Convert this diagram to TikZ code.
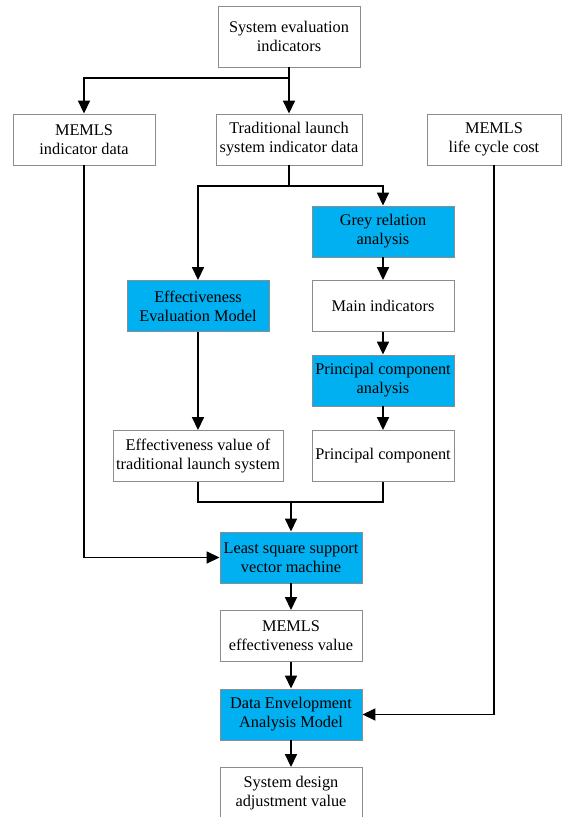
\documentclass[tikz,border=0pt]{standalone}
\usepackage{fontspec}
\setmainfont{Liberation Serif}
\usetikzlibrary{arrows.meta}
\definecolor{boxblue}{HTML}{00B0F0}
\definecolor{boxline}{HTML}{8C8C8C}
\begin{document}
\begin{tikzpicture}[x=1pt,y=-1pt,
  box/.style={draw=boxline,line width=0.9pt,fill=white,rectangle,align=center,
    minimum height=51pt,inner sep=0pt,font=\fontsize{16.3}{19}\selectfont},
  bluebox/.style={box,fill=boxblue},
  conn/.style={line width=1.6pt,-{Triangle[width=12pt,length=13pt]}},
  plain/.style={line width=1.6pt}]
\useasboundingbox (0,0) rectangle (562,817);
\fill[white] (0,0) rectangle (562,817);
% nodes
\node[box,minimum width=142pt,minimum height=61pt] (top) at (289,36.5) {System evaluation\\indicators};
\node[box,minimum width=142pt] (mid) at (84,139.5) {MEMLS\\indicator data};
\node[box,minimum width=146pt] (trad) at (289,139.5) {Traditional launch\\system indicator data};
\node[box,minimum width=134pt] (lcc) at (494,139.5) {MEMLS\\life cycle cost};
\node[bluebox,minimum width=142pt] (grey) at (383,231.5) {Grey relation\\analysis};
\node[box,minimum width=142pt] (main) at (383,306) {Main indicators};
\node[bluebox,minimum width=142pt] (pca) at (383,380.5) {Principal component\\analysis};
\node[box,minimum width=142pt] (pc) at (383,456) {Principal component};
\node[bluebox,minimum width=142pt] (eem) at (198,306) {Effectiveness\\Evaluation Model};
\node[box,minimum width=170pt] (ev) at (198,456) {Effectiveness value of\\traditional launch system};
\node[bluebox,minimum width=142pt] (ls) at (291,557.5) {Least square support\\vector machine};
\node[box,minimum width=142pt] (mev) at (291,636) {MEMLS\\effectiveness value};
\node[bluebox,minimum width=142pt] (dea) at (291,714.5) {Data Envelopment\\Analysis Model};
\node[box,minimum width=142pt] (sd) at (291,793) {System design\\adjustment value};
% coordinates
\coordinate (j1) at (289,78);
\coordinate (j2) at (289,186);
\coordinate (j3) at (291,502);
% connectors
\draw[plain] (top.south) -- (j1);
\draw[conn] (j1) -- (trad.north);
\draw[conn] (j1) -| (mid.north);
\draw[plain] (trad.south) -- (j2);
\draw[conn] (j2) -| (grey.north);
\draw[conn] (j2) -| (eem.north);
\draw[conn] (grey) -- (main);
\draw[conn] (main) -- (pca);
\draw[conn] (pca) -- (pc);
\draw[conn] (eem) -- (ev);
\draw[plain] (ev.south) |- (j3);
\draw[plain] (pc.south) |- (j3);
\draw[conn] (j3) -- (ls.north);
\draw[conn] (mid.south) |- (ls.west);
\draw[conn] (ls) -- (mev);
\draw[conn] (mev) -- (dea);
\draw[conn] (dea) -- (sd);
\draw[conn] (lcc.south) |- (dea.east);
\end{tikzpicture}
\end{document}
